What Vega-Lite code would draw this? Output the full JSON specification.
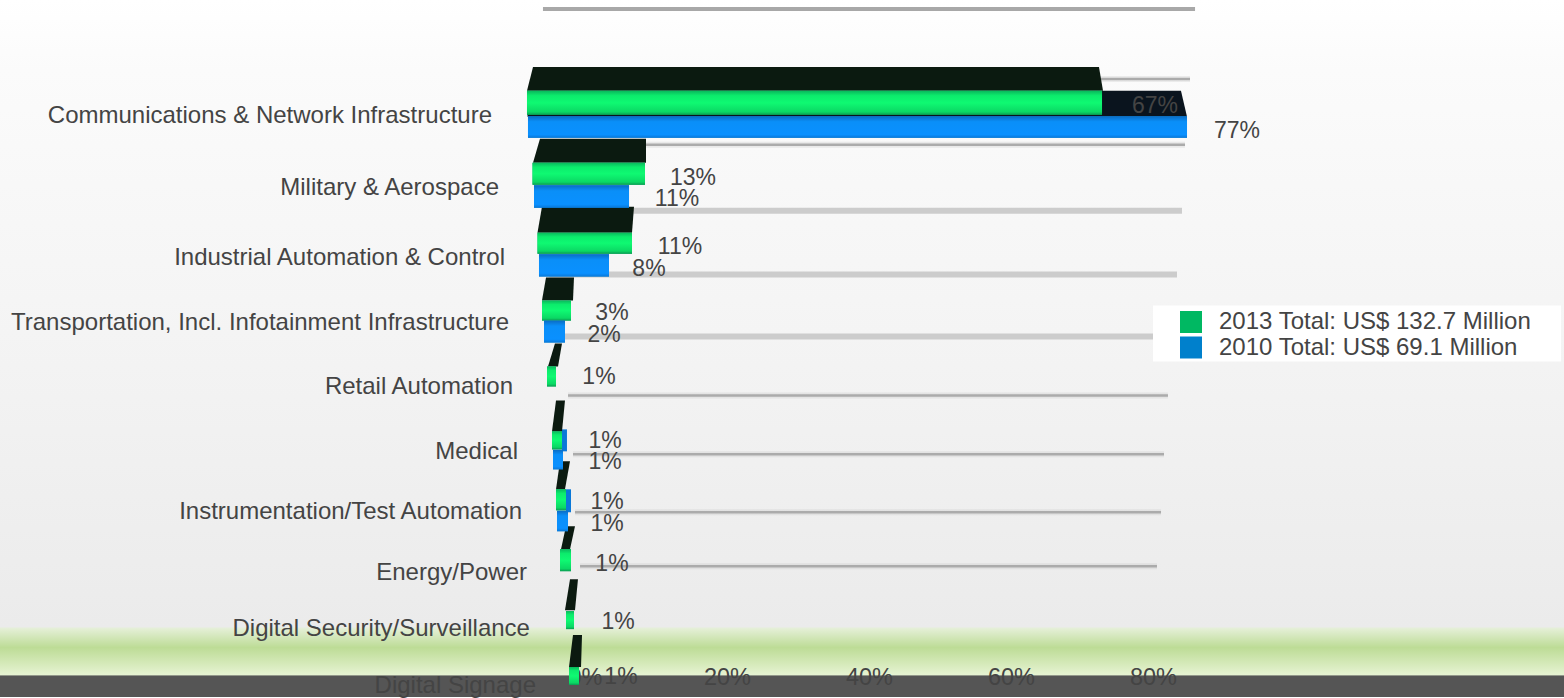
{
"$schema":"https://vega.github.io/schema/vega-lite/v6.json",
"autosize":{"type":"fit","contains":"padding"},
"width":1564,"height":698,"padding":0,
"background":"#ffffff",
"view":{"stroke":null,"fill":{"gradient":"linear","x1":0,"y1":0,"x2":0,"y2":1,"stops":[{"offset":0,"color":"#ffffff"},{"offset":0.1,"color":"#fbfbfb"},{"offset":0.43,"color":"#f5f5f5"},{"offset":0.899,"color":"#ebebeb"},{"offset":0.902,"color":"#e4efd6"},{"offset":0.929,"color":"#bddc96"},{"offset":0.968,"color":"#e6f3d2"},{"offset":0.97,"color":"#555555"},{"offset":1,"color":"#555555"}]}},
"config":{"font":"Liberation Sans","axisX":{"labelExpr":"datum.value + '%'","domain":false,"ticks":false,"grid":false,"labelFontSize":23.5,"labelColor":"#444444","labelPadding":-20,"labelBaseline":"middle","labelFlush":false,"labelOverlap":false}},
"datasets":{
"fronts":[
{"category":"Communications & Network Infrastructure","series":"2013 Total: US$ 132.7 Million","start":-8.17,"end":72.82,"top":91,"bottom":115},
{"category":"Military & Aerospace","series":"2013 Total: US$ 132.7 Million","start":-7.39,"end":8.45,"top":163,"bottom":185},
{"category":"Industrial Automation & Control","series":"2013 Total: US$ 132.7 Million","start":-6.69,"end":6.62,"top":233,"bottom":254},
{"category":"Transportation","series":"2013 Total: US$ 132.7 Million","start":-6.06,"end":-1.97,"top":301,"bottom":321},
{"category":"Retail Automation","series":"2013 Total: US$ 132.7 Million","start":-5.35,"end":-4.08,"top":367,"bottom":387},
{"category":"Medical","series":"2013 Total: US$ 132.7 Million","start":-4.65,"end":-3.24,"top":432,"bottom":450},
{"category":"Instrumentation/Test Automation","series":"2013 Total: US$ 132.7 Million","start":-4.08,"end":-2.68,"top":490,"bottom":511},
{"category":"Energy/Power","series":"2013 Total: US$ 132.7 Million","start":-3.52,"end":-1.97,"top":550,"bottom":572},
{"category":"Digital Security/Surveillance","series":"2013 Total: US$ 132.7 Million","start":-2.68,"end":-1.55,"top":612,"bottom":630},
{"category":"Digital Signage","series":"2013 Total: US$ 132.7 Million","start":-2.25,"end":-0.85,"top":668,"bottom":686},
{"category":"Communications & Network Infrastructure","series":"2010 Total: US$ 69.1 Million","start":-8.03,"end":84.79,"top":116.5,"bottom":138},
{"category":"Military & Aerospace","series":"2010 Total: US$ 69.1 Million","start":-7.18,"end":6.2,"top":185.5,"bottom":208},
{"category":"Industrial Automation & Control","series":"2010 Total: US$ 69.1 Million","start":-6.48,"end":3.38,"top":254.5,"bottom":277},
{"category":"Transportation","series":"2010 Total: US$ 69.1 Million","start":-5.77,"end":-2.82,"top":321,"bottom":343},
{"category":"Medical","series":"2010 Total: US$ 69.1 Million","start":-4.51,"end":-3.1,"top":450.5,"bottom":470},
{"category":"Instrumentation/Test Automation","series":"2010 Total: US$ 69.1 Million","start":-3.94,"end":-2.39,"top":511.5,"bottom":532}
],
"faces":[
{"bar":"c","depth":67,"a":-7.32,"b":72.39},{"bar":"c","depth":91,"a":-8.17,"b":72.96},
{"bar":"m","depth":139,"a":-6.34,"b":8.59},{"bar":"m","depth":163,"a":-7.32,"b":8.59},
{"bar":"i","depth":207,"a":-6.06,"b":6.9},{"bar":"i","depth":233,"a":-6.69,"b":6.62},
{"bar":"t","depth":278,"a":-5.49,"b":-1.55},{"bar":"t","depth":301,"a":-6.06,"b":-1.69},
{"bar":"r","depth":344,"a":-4.23,"b":-3.24},{"bar":"r","depth":367,"a":-5.21,"b":-3.8},
{"bar":"me","depth":401,"a":-4.08,"b":-2.82},{"bar":"me","depth":432,"a":-4.65,"b":-3.24},
{"bar":"in","depth":462,"a":-3.52,"b":-2.11},{"bar":"in","depth":490,"a":-4.08,"b":-2.82},
{"bar":"e","depth":527,"a":-2.68,"b":-1.41},{"bar":"e","depth":550,"a":-3.38,"b":-2.11},
{"bar":"d","depth":580,"a":-2.11,"b":-0.99},{"bar":"d","depth":611,"a":-2.82,"b":-1.41},
{"bar":"s","depth":636,"a":-1.69,"b":-0.42},{"bar":"s","depth":668,"a":-2.25,"b":-0.56}
],
"backFace":[
{"bar":"c","depth":91,"a":-8.1,"b":83.94},{"bar":"c","depth":117,"a":-8.1,"b":84.79}
],
"slivers":[
{"bar":"me","from":-3.24,"to":-2.54,"top":430,"bottom":452},
{"bar":"in","from":-2.68,"to":-1.97,"top":490,"bottom":513}
],
"gridHeavy":[
{"depth":211,"from":-6,"to":84.08},{"depth":275,"from":-5,"to":83.38},{"depth":337,"from":-2.82,"to":81}
],
"gridLight":[
{"depth":79,"from":-7.04,"to":85.21},{"depth":145,"from":-6.34,"to":84.51},{"depth":396,"from":-2.39,"to":82.11},{"depth":455,"from":-1.69,"to":81.55},{"depth":513,"from":-1.41,"to":81.13},{"depth":567,"from":-0.7,"to":80.56}
],
"gridTop":[{"depth":9,"from":-5.92,"to":85.92}],
"legendBox":[{"from":80,"to":137.46,"top":306,"bottom":362}],
"values":[
{"label":"77%","at":91.83,"depth":130},{"label":"13%","at":15.21,"depth":177},{"label":"11%","at":12.96,"depth":198},{"label":"11%","at":13.38,"depth":246},{"label":"8%","at":9.01,"depth":268},{"label":"3%","at":3.8,"depth":312},{"label":"2%","at":2.68,"depth":334},{"label":"1%","at":1.97,"depth":377},{"label":"1%","at":2.82,"depth":441},{"label":"1%","at":2.82,"depth":462},{"label":"1%","at":3.1,"depth":502},{"label":"1%","at":3.1,"depth":524},{"label":"1%","at":3.8,"depth":564},{"label":"1%","at":4.65,"depth":622},{"label":"1%","at":5.07,"depth":677},{"label":"67%","at":80.28,"depth":105}
],
"categories":[
{"label":"Communications & Network Infrastructure","at":-13.1,"depth":115},
{"label":"Military & Aerospace","at":-12.11,"depth":187},
{"label":"Industrial Automation & Control","at":-11.27,"depth":257},
{"label":"Transportation, Incl. Infotainment Infrastructure","at":-10.7,"depth":322},
{"label":"Retail Automation","at":-10.14,"depth":387},
{"label":"Medical","at":-9.44,"depth":452},
{"label":"Instrumentation/Test Automation","at":-8.87,"depth":512},
{"label":"Energy/Power","at":-8.17,"depth":573},
{"label":"Digital Security/Surveillance","at":-7.75,"depth":629},
{"label":"Digital Signage","at":-6.9,"depth":686}
]
},
"layer":[
{"data":{"name":"gridTop"},"mark":{"type":"rule","strokeWidth":4,"color":"#a8a8a8"},
 "encoding":{"x":{"field":"from","type":"quantitative","title":null,"scale":{"domain":[-82.394,137.887],"nice":false,"zero":false},"axis":{"values":[0,20,40,60,80],"title":null}},"x2":{"field":"to"},"y":{"field":"depth","type":"quantitative","scale":{"domain":[698,0],"nice":false,"zero":false},"axis":null}}},
{"data":{"name":"gridHeavy"},"mark":{"type":"rule","strokeWidth":6,"color":"#cccccc"},
 "encoding":{"x":{"field":"from","type":"quantitative","title":null},"x2":{"field":"to"},"y":{"field":"depth","type":"quantitative","axis":null}}},
{"data":{"name":"gridLight"},"mark":{"type":"rule","strokeWidth":6,"color":"#bbbbbb","opacity":0.25},
 "encoding":{"x":{"field":"from","type":"quantitative","title":null},"x2":{"field":"to"},"y":{"field":"depth","type":"quantitative","axis":null}}},
{"data":{"name":"gridLight"},"mark":{"type":"rule","strokeWidth":2.5,"color":"#ababab"},
 "encoding":{"x":{"field":"from","type":"quantitative","title":null},"x2":{"field":"to"},"y":{"field":"depth","type":"quantitative","axis":null}}},
{"data":{"name":"legendBox"},"mark":{"type":"rect","color":"#ffffff"},
 "encoding":{"x":{"field":"from","type":"quantitative","title":null},"x2":{"field":"to"},"y":{"field":"top","type":"quantitative","axis":null},"y2":{"field":"bottom"}}},
{"data":{"name":"backFace"},"mark":{"type":"area","orient":"horizontal","color":"#0a141e"},
 "encoding":{"x":{"field":"a","type":"quantitative","title":null,"stack":null},"x2":{"field":"b"},"y":{"field":"depth","type":"quantitative","axis":null},"detail":{"field":"bar"}}},
{"data":{"name":"slivers"},"mark":{"type":"rect","color":"#0a78d8"},
 "encoding":{"x":{"field":"from","type":"quantitative","title":null},"x2":{"field":"to"},"y":{"field":"top","type":"quantitative","axis":null},"y2":{"field":"bottom"}}},
{"data":{"name":"faces"},"mark":{"type":"area","orient":"horizontal","color":"#0b1a10"},
 "encoding":{"x":{"field":"a","type":"quantitative","title":null,"stack":null},"x2":{"field":"b"},"y":{"field":"depth","type":"quantitative","axis":null},"detail":{"field":"bar"}}},
{"data":{"name":"fronts"},"mark":{"type":"rect"},
 "encoding":{"x":{"field":"start","type":"quantitative","title":null},"x2":{"field":"end"},"y":{"field":"top","type":"quantitative","axis":null},"y2":{"field":"bottom"},
  "color":{"field":"series","type":"nominal","scale":{"domain":["2013 Total: US$ 132.7 Million","2010 Total: US$ 69.1 Million"],"range":["#00b862","#0080cc"]},
   "legend":{"title":null,"orient":"none","legendX":1179,"legendY":310,"symbolType":"square","symbolSize":484,"symbolStrokeWidth":0,"labelFontSize":24,"labelColor":"#444444","labelOffset":16,"rowPadding":1.5,"padding":0,"labelLimit":400}}}},
{"data":{"name":"fronts"},"transform":[{"filter":"indexof(datum.series,'2013')==0"}],
 "mark":{"type":"rect","color":{"gradient":"linear","x1":0,"y1":0,"x2":0,"y2":1,"stops":[{"offset":0,"color":"#0ab85c"},{"offset":0.2,"color":"#0cec6c"},{"offset":0.5,"color":"#0ff972"},{"offset":0.88,"color":"#0bd864"},{"offset":1,"color":"#0a9c52"}]}},
 "encoding":{"x":{"field":"start","type":"quantitative","title":null},"x2":{"field":"end"},"y":{"field":"top","type":"quantitative","axis":null},"y2":{"field":"bottom"}}},
{"data":{"name":"fronts"},"transform":[{"filter":"indexof(datum.series,'2010')==0"}],
 "mark":{"type":"rect","color":{"gradient":"linear","x1":0,"y1":0,"x2":0,"y2":1,"stops":[{"offset":0,"color":"#0a6cc4"},{"offset":0.25,"color":"#0a8ff8"},{"offset":0.85,"color":"#0a90ff"},{"offset":1,"color":"#0a78d8"}]}},
 "encoding":{"x":{"field":"start","type":"quantitative","title":null},"x2":{"field":"end"},"y":{"field":"top","type":"quantitative","axis":null},"y2":{"field":"bottom"}}},
{"data":{"name":"values"},"mark":{"type":"text","fontSize":23,"color":"#444444","align":"center","baseline":"middle","dy":1},
 "encoding":{"x":{"field":"at","type":"quantitative","title":null},"y":{"field":"depth","type":"quantitative","axis":null},"text":{"field":"label"}}},
{"data":{"name":"categories"},"mark":{"type":"text","fontSize":24,"color":"#444444","align":"right","baseline":"middle","dy":1},
 "encoding":{"x":{"field":"at","type":"quantitative","title":null},"y":{"field":"depth","type":"quantitative","axis":null},"text":{"field":"label"}}}
]
}
